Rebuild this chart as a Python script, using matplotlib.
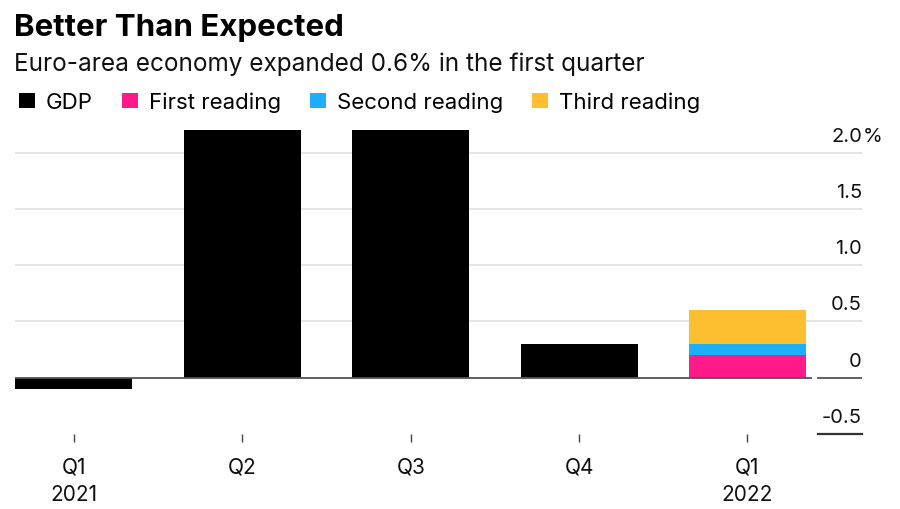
import matplotlib
matplotlib.use("Agg")
import matplotlib.pyplot as plt
from matplotlib.patches import Patch
import matplotlib.transforms as mtransforms

plt.rcParams['font.family'] = ['Inter', 'DejaVu Sans']

# ---- data ----
categories = ["Q1\n2021", "Q2", "Q3", "Q4", "Q1\n2022"]
gdp = [-0.1, 2.2, 2.2, 0.3, 0.0]
first_reading = [0, 0, 0, 0, 0.2]
second_reading = [0, 0, 0, 0, 0.3]
third_reading = [0, 0, 0, 0, 0.6]
y_ticks = [-0.5, 0, 0.5, 1.0, 1.5, 2.0]
y_labels = ["-0.5", "0", "0.5", "1.0", "1.5", "2.0"]

title = "Better Than Expected"
subtitle = "Euro-area economy expanded 0.6% in the first quarter"
series_names = ["GDP", "First reading", "Second reading", "Third reading"]
colors = ["#000000", "#FF1A8A", "#1EAEFB", "#FDBF2E"]

W, H = 900, 510
fig = plt.figure(figsize=(9, 5.1), dpi=100)
fig.patch.set_facecolor("white")

left_px, right_px, top_px, bottom_px = 15, 862, 131, 435
ax = fig.add_axes([left_px / W, 1 - bottom_px / H, (right_px - left_px) / W, (bottom_px - top_px) / H])
ax.set_xlim(-0.35, 4.68)
ax.set_ylim(-0.5, 2.2)
for s in ax.spines.values():
    s.set_visible(False)

x = list(range(len(categories)))
bw = 0.695

# gridlines
for yt in y_ticks:
    if yt > 0:
        ax.axhline(yt, color="#E2E2E2", lw=1.3, zorder=0)

# bars
ax.bar(x, gdp, width=bw, color=colors[0], zorder=2)
b1 = first_reading
b2 = [s - f for s, f in zip(second_reading, first_reading)]
b3 = [t - s for t, s in zip(third_reading, second_reading)]
ax.bar(x, b1, width=bw, color=colors[1], zorder=2)
ax.bar(x, b2, bottom=b1, width=bw, color=colors[2], zorder=2)
ax.bar(x, b3, bottom=[a + b for a, b in zip(b1, b2)], width=bw, color=colors[3], zorder=2)

# zero line (with gap before label column) and -0.5 underline
lab_start = (818 - left_px) / (right_px - left_px)
zero_end = (811 - left_px) / (right_px - left_px)
ax.axhline(0, xmin=0, xmax=zero_end, color="#555555", lw=1.3, zorder=3)
ax.axhline(0, xmin=lab_start, xmax=1, color="#555555", lw=1.3, zorder=3)
ax.axhline(-0.5, xmin=lab_start, xmax=1, color="#333333", lw=1.6, zorder=3, clip_on=False)

# y labels (right, above gridline)
trans = mtransforms.blended_transform_factory(ax.transAxes, ax.transData)
off = mtransforms.offset_copy(trans, fig=fig, x=0, y=8, units="dots")
for yt, lab in zip(y_ticks, y_labels):
    ax.text(1.0, yt, lab, transform=off, ha="right", va="bottom",
            fontsize=14.5, color="#111111")
    if yt == 2.0:
        ax.text(1.0, yt, "%", transform=mtransforms.offset_copy(trans, fig=fig, x=1, y=8, units="dots"),
                ha="left", va="bottom", fontsize=14.5, color="#111111")

# x ticks
ax.set_xticks(x)
ax.set_xticklabels(categories, fontsize=15, linespacing=1.5, color="#111111")
ax.tick_params(axis="x", length=6, width=1, color="#444444", pad=10, direction="out")
ax.tick_params(axis="y", left=False, right=False, labelleft=False)

# titles
fig.text(14 / W, 1 - 36 / H, title, fontsize=22.5, fontweight="bold", ha="left", va="baseline", color="#000000")
fig.text(14 / W, 1 - 71 / H, subtitle, fontsize=17.5, ha="left", va="baseline", color="#111111")

# legend
handles = [Patch(facecolor=c, edgecolor="none") for c in colors]
fig.legend(handles, series_names, loc="center left", bbox_to_anchor=(19 / W, 1 - 103 / H),
           ncol=4, frameon=False, fontsize=16, handlelength=0.72, handleheight=0.72,
           handletextpad=0.5, columnspacing=1.3, borderaxespad=0, borderpad=0)

fig.savefig("out.png", dpi=100, facecolor="white")
